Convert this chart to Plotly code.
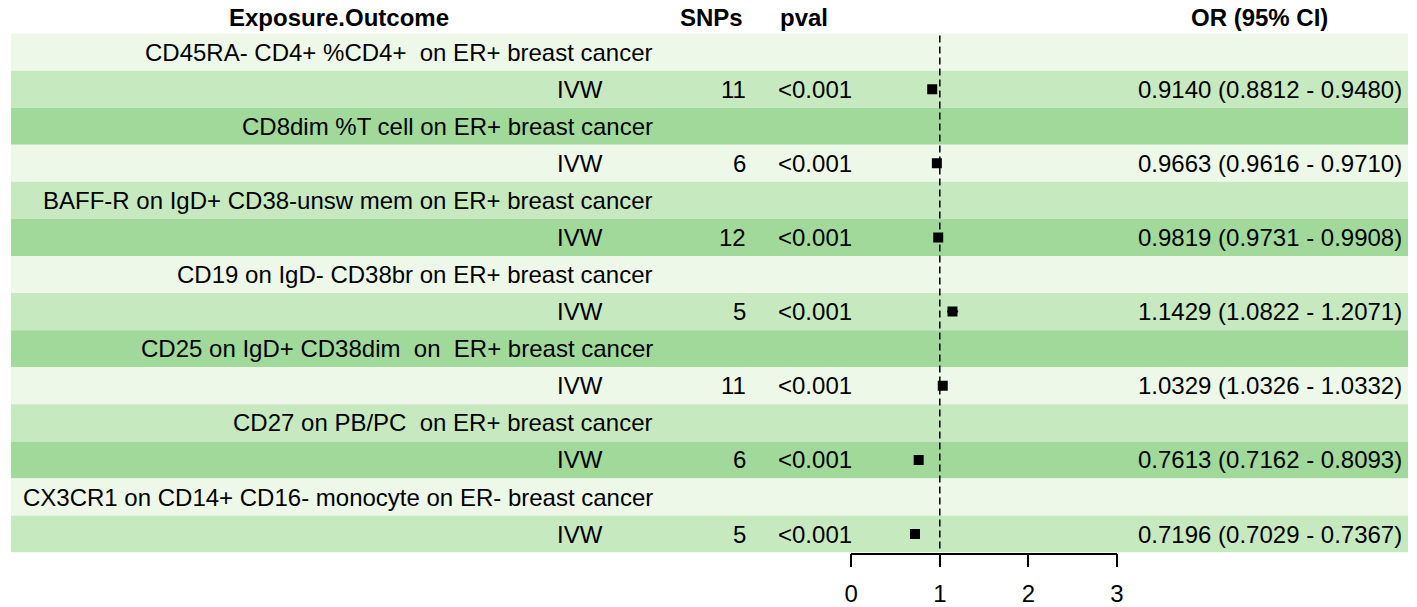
import plotly.graph_objects as go

# forest plot data
exposures = [
    "CD45RA- CD4+ %CD4+  on ER+ breast cancer",
    "CD8dim %T cell on ER+ breast cancer",
    "BAFF-R on IgD+ CD38-unsw mem on ER+ breast cancer",
    "CD19 on IgD- CD38br on ER+ breast cancer",
    "CD25 on IgD+ CD38dim  on  ER+ breast cancer",
    "CD27 on PB/PC  on ER+ breast cancer",
    "CX3CR1 on CD14+ CD16- monocyte on ER- breast cancer",
]
methods = ["IVW", "IVW", "IVW", "IVW", "IVW", "IVW", "IVW"]
snps = [11, 6, 12, 5, 11, 6, 5]
pvals = ["<0.001", "<0.001", "<0.001", "<0.001", "<0.001", "<0.001", "<0.001"]
or_vals = [0.9140, 0.9663, 0.9819, 1.1429, 1.0329, 0.7613, 0.7196]
ci_low = [0.8812, 0.9616, 0.9731, 1.0822, 1.0326, 0.7162, 0.7029]
ci_high = [0.9480, 0.9710, 0.9908, 1.2071, 1.0332, 0.8093, 0.7367]
x_ticks = [0, 1, 2, 3]

row_colors = ["#EDF8E9", "#C7E9C0", "#A1D99B"]
FONT = "Liberation Sans, Arial, sans-serif"
W, H = 1417, 607


def px(x):
    # pixel -> paper fraction
    return x / W


n_rows = len(exposures) * 2
top_px, bottom_px = 34, 560
row_h = (bottom_px - top_px) / n_rows
y_top = 0.5 - top_px / row_h
header_y = 0.5 - (top_px - 18) / row_h

title_rows = [2 * i + 1 for i in range(len(exposures))]
ivw_rows = [2 * i + 2 for i in range(len(exposures))]

fig = go.Figure()

# square + CI
fig.add_trace(go.Scatter(
    x=or_vals,
    y=ivw_rows,
    mode="markers",
    marker=dict(symbol="square", size=10, color="black"),
    error_x=dict(
        type="data",
        symmetric=False,
        array=[h - o for h, o in zip(ci_high, or_vals)],
        arrayminus=[o - l for o, l in zip(or_vals, ci_low)],
        color="black",
        thickness=2,
        width=0,
    ),
    showlegend=False,
    hoverinfo="skip",
))

shapes = []
# striped rows
for r in range(1, n_rows + 1):
    shapes.append(dict(
        type="rect", xref="paper", yref="y",
        x0=px(4), x1=px(1415), y0=r - 0.5, y1=r + 0.5,
        fillcolor=row_colors[(r - 1) % 3], line=dict(width=0), layer="below",
    ))
# reference line at OR = 1
shapes.append(dict(
    type="line", xref="x", yref="y", x0=1, x1=1, y0=0.55, y1=n_rows + 0.45,
    line=dict(color="black", width=1.5, dash="7px,4px"), layer="above",
))

annotations = []


def txt(x_px, y, text, anchor, bold=False):
    annotations.append(dict(
        x=px(x_px), xref="paper", y=y, yref="y",
        text=f"<b>{text}</b>" if bold else text,
        xanchor=anchor, yanchor="middle", showarrow=False,
        font=dict(family=FONT, size=24, color="black"),
    ))


# header
txt(335, header_y, "Exposure.Outcome", "center", bold=True)
txt(745, header_y, "SNPs", "right", bold=True)
txt(779, header_y, "pval", "left", bold=True)
txt(1265, header_y, "OR (95% CI)", "center", bold=True)

for i, name in enumerate(exposures):
    txt(654, title_rows[i], name, "right")
    txt(604, ivw_rows[i], methods[i], "right")
    txt(748, ivw_rows[i], str(snps[i]), "right")
    txt(777, ivw_rows[i], pvals[i], "left")
    txt(1411, ivw_rows[i], f"{or_vals[i]:.4f} ({ci_low[i]:.4f} - {ci_high[i]:.4f})", "right")

fig.update_layout(
    width=W, height=H,
    margin=dict(l=0, r=0, t=0, b=0),
    paper_bgcolor="white",
    plot_bgcolor="rgba(0,0,0,0)",
    shapes=shapes,
    annotations=annotations,
    xaxis=dict(
        domain=[px(852.7), px(1121)], range=[0, 3],
        tickvals=x_ticks, ticktext=[str(t) for t in x_ticks],
        ticks="outside", ticklen=13, tickwidth=1.5, tickcolor="black",
        ticklabelstandoff=6,
        showline=True, linecolor="black", linewidth=1.5,
        showgrid=False, zeroline=False,
        tickfont=dict(family=FONT, size=24, color="black"),
    ),
    yaxis=dict(
        domain=[(H - bottom_px) / H, 1], range=[n_rows + 0.5, y_top],
        showticklabels=False, showgrid=False, zeroline=False, ticks="",
    ),
)

# drop the default page margin so the figure sits at the window's corner
fig.write_html(
    "out.html",
    config={"displayModeBar": False},
    post_script="document.body.style.margin = '0';",
)
